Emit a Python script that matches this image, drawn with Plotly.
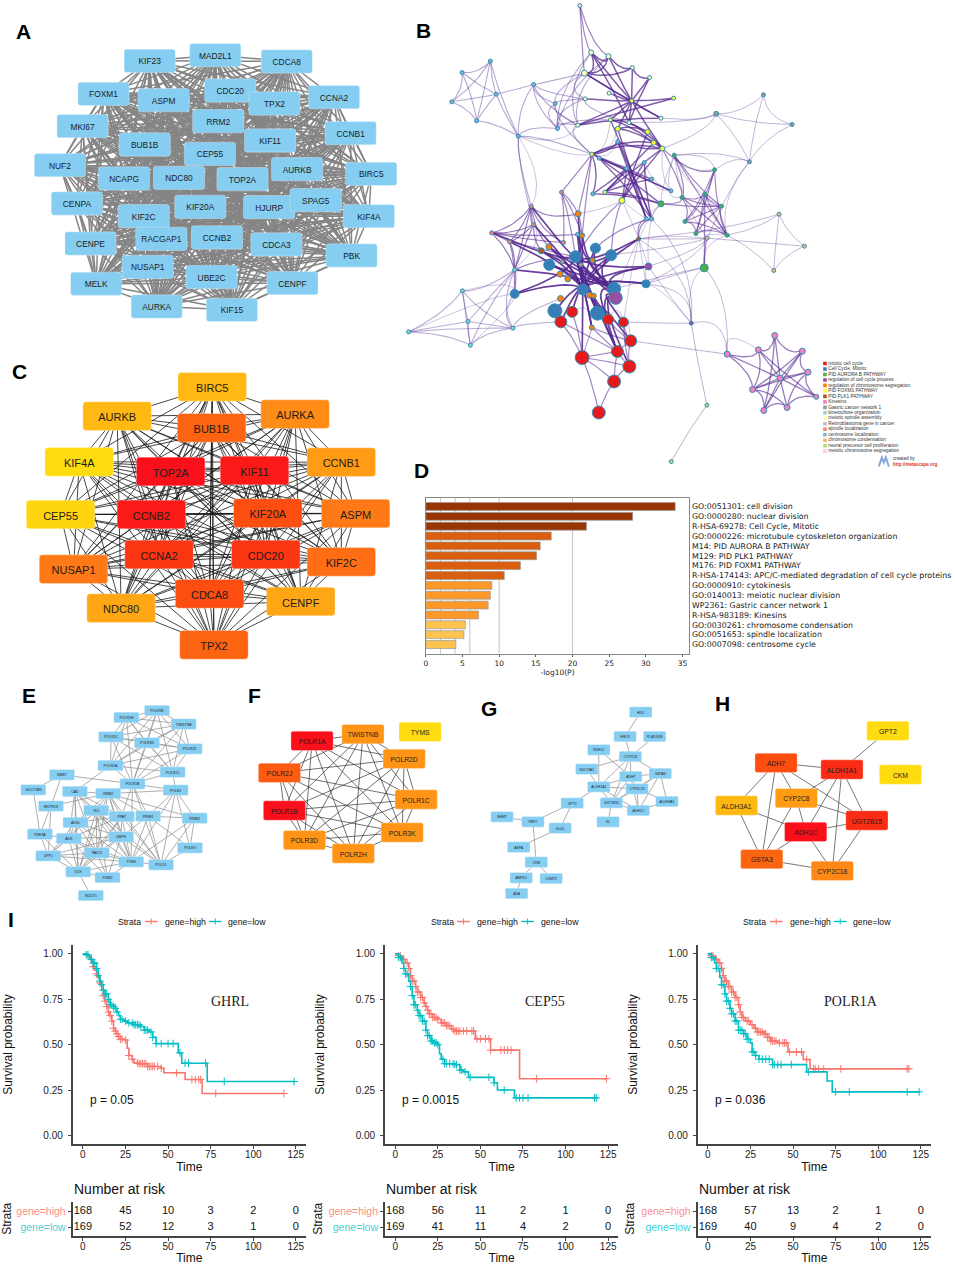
import itertools
import plotly.graph_objects as go

W, H = 955, 1265

# ---------- Panel A ----------
A_names = ["KIF23","MAD2L1","CDCA8","FOXM1","ASPM","CDC20","TPX2","CCNA2","MKI67","RRM2","CCNB1","BUB1B","KIF11","CEP55","NUF2","AURKB","BIRC5","NCAPG","NDC80","TOP2A","CENPA","KIF20A","HJURP","SPAG5","KIF2C","KIF4A","CENPE","RACGAP1","CCNB2","CDCA3","PBK","NUSAP1","UBE2C","MELK","CENPF","AURKA","KIF15"]
A_x = [448,645,860,309,490,690,823,1002,246,654,1052,433,810,629,178,891,1114,371,536,727,229,600,807,947,430,1107,270,483,650,829,1055,442,634,287,877,469,695]
A_y = [154,137,156,253,272,243,282,263,350,335,371,405,393,433,467,479,493,507,505,509,582,592,593,572,620,620,702,688,684,705,738,772,803,823,821,891,901]

# ---------- Panel C ----------
C_names = ["BIRC5","AURKB","BUB1B","AURKA","KIF4A","TOP2A","KIF11","CCNB1","CEP55","CCNB2","KIF20A","ASPM","NUSAP1","CCNA2","CDC20","KIF2C","CDCA8","CENPF","NDC80","TPX2"]
C_x = [636,350,634,885,236,511,763,1024,180,453,803,1067,219,476,797,1024,628,902,362,641]
C_y = [97,185,220,179,322,351,348,323,480,480,476,477,644,600,600,622,718,741,761,871]
C_col = ["#ffb912","#ffb912","#fd6412","#ff8c16","#ffdc10","#fb0f1a","#fb1a17","#ff9b14","#ffd510","#fb1a17","#fd4d11","#ff7a16","#ff7a16","#fc3512","#fc3512","#ff6d14","#fd4d11","#ffa614","#ffa614","#fd6412"]

# ---------- Panel E ----------
E_names = ["POLR3K","POLR2H","TWISTNB","POLR1C","POLR3D","POLR2D","POLR1A","POLR2J","NME7","POLR1B","GUCY1B3","POLE2","CAD","RRM2","ENTPD8","TK1","PPAT","PRIM1","PRIM2","ADSL","PDE3A","ADK","UMPS","POLE3","UPP1","PAICS","TYMS","POLD1","DCK","PGM2","NUDT5"]
E_x = [470,378,550,332,440,568,330,517,184,396,98,526,223,323,151,287,364,443,583,225,118,205,362,569,143,289,392,482,233,321,271]
E_y = [63,84,104,142,160,178,228,248,256,283,301,302,306,312,350,363,381,380,386,399,434,447,442,475,499,490,517,526,547,564,618]
E_polr = ["POLR3K","POLR2H","TWISTNB","POLR1C","POLR3D","POLR2D","POLR1A","POLR2J","POLR1B"]
E_links = {
 "POLR1A":["CAD"],
 "NME7":["POLR1B","ENTPD8","GUCY1B3"],
 "GUCY1B3":["PDE3A"],
 "ENTPD8":["PDE3A","UPP1","RRM2"],
 "PDE3A":["UPP1","DCK","ADK"],
 "POLR1B":["POLE2","PRIM1","PPAT","POLD1","TYMS","RRM2"],
 "POLE2":["RRM2","POLR2J","PRIM1","PRIM2","POLE3","POLD1","TYMS"],
 "PRIM1":["RRM2","PRIM2","POLE3","POLD1","TYMS","UMPS"],
 "PRIM2":["RRM2","POLE3","POLD1","TYMS"],
 "POLE3":["POLD1"],
 "POLD1":["RRM2","TK1","TYMS","UMPS","PPAT"],
 "CAD":["RRM2","TK1","ADSL","ADK","UMPS","PAICS","DCK","PPAT","TYMS"],
 "RRM2":["TK1","PPAT","UMPS","TYMS","ADSL","DCK","PAICS"],
 "TK1":["PPAT","ADSL","ADK","UMPS","PAICS","TYMS","DCK","UPP1","PGM2"],
 "PPAT":["ADSL","ADK","UMPS","PAICS","TYMS","DCK"],
 "ADSL":["ADK","UMPS","PAICS","TYMS","DCK","UPP1"],
 "ADK":["UMPS","PAICS","TYMS","DCK","UPP1","PGM2"],
 "UMPS":["PAICS","TYMS","DCK","UPP1","PGM2"],
 "PAICS":["TYMS","DCK","UPP1","PGM2"],
 "TYMS":["DCK","UPP1","PGM2"],
 "UPP1":["DCK"],
 "DCK":["PGM2","NUDT5"],
}

# ---------- Panel F ----------
F_names = ["TWISTNB","POLR1A","TYMS","POLR2D","POLR2J","POLR1C","POLR1B","POLR3K","POLR3D","POLR2H"]
F_x = [369,216,541,493,118,529,133,487,193,340]
F_y = [134,154,127,208,250,330,363,429,452,492]
F_col = ["#ff9416","#fb0f1a","#ffdc10","#ff9416","#fd5a12","#ff9416","#fb0f1a","#ff9416","#ff9416","#ff9416"]
F_linked = ["TWISTNB","POLR1A","POLR2D","POLR2J","POLR1C","POLR1B","POLR3K","POLR3D","POLR2H"]

# ---------- Panel G ----------
G_names = ["HDC","FMO5","PLA2G1B","RDH12","CYP2C8","SULT2A1","GSTA3","ADH7","ALDH1A1","CYP2C18","UGT2B15","ALDH3A1","GPT2","ADH1C","BHMT","FBP2","KL","GLUL","ASPA","CKM","AMPD1","CKMT2","ADA"]
G_x = [514,467,556,388,483,352,573,484,388,503,426,593,308,507,97,190,416,272,147,200,155,245,141]
G_y = [68,141,141,181,201,239,252,261,292,298,340,336,341,363,382,397,397,416,473,518,565,567,612]
G_edges = [("HDC","FMO5"),("FMO5","CYP2C8"),("PLA2G1B","CYP2C8"),("RDH12","ALDH1A1"),("RDH12","ADH7"),("CYP2C8","SULT2A1"),("CYP2C8","ALDH1A1"),("CYP2C8","ADH7"),("CYP2C8","GSTA3"),("CYP2C8","UGT2B15"),("SULT2A1","ALDH1A1"),("GSTA3","ADH7"),("GSTA3","ALDH3A1"),("GSTA3","ADH1C"),("GSTA3","CYP2C18"),("GSTA3","UGT2B15"),("ADH7","ALDH1A1"),("ADH7","UGT2B15"),("ADH7","CYP2C18"),("ADH7","ADH1C"),("ALDH1A1","CYP2C18"),("ALDH1A1","UGT2B15"),("ALDH1A1","ADH1C"),("CYP2C18","UGT2B15"),("CYP2C18","ADH1C"),("UGT2B15","ADH1C"),("ALDH3A1","ADH1C"),("ALDH3A1","CYP2C18"),("GPT2","ALDH1A1"),("GPT2","FBP2"),("GPT2","GLUL"),("BHMT","FBP2"),("FBP2","CKM"),("GLUL","ASPA"),("CKM","AMPD1"),("CKM","CKMT2"),("AMPD1","ADA"),("UGT2B15","KL")]

# ---------- Panel H ----------
H_names = ["GPT2","ADH7","ALDH1A1","CKM","CYP2C8","ALDH3A1","UGT2B15","ADH1C","GSTA3","CYP2C18"]
H_x = [552,216,414,590,277,97,489,305,173,385]
H_y = [124,220,240,255,326,348,393,427,509,544]
H_col = ["#ffdc10","#fd4d11","#fb2c15","#ffdc10","#ff9b14","#ffb912","#fb2c15","#fb0f1a","#fd6412","#ff8816"]
H_edges = [("GPT2","ALDH1A1"),("ADH7","ALDH1A1"),("ADH7","ALDH3A1"),("ADH7","CYP2C8"),("ADH7","GSTA3"),("ADH7","UGT2B15"),("ALDH1A1","CYP2C8"),("ALDH1A1","UGT2B15"),("ALDH1A1","ADH1C"),("ALDH1A1","CYP2C18"),("CYP2C8","UGT2B15"),("CYP2C8","ADH1C"),("CYP2C8","GSTA3"),("ALDH3A1","ADH1C"),("ALDH3A1","GSTA3"),("UGT2B15","ADH1C"),("UGT2B15","CYP2C18"),("ADH1C","GSTA3"),("ADH1C","CYP2C18"),("GSTA3","CYP2C18")]

# ---------- Panel B (enrichment network) ----------
B_legend = ["mitotic cell cycle","Cell Cycle, Mitotic","PID AURORA B PATHWAY","regulation of cell cycle process","regulation of chromosome segregation","PID FOXM1 PATHWAY","PID PLK1 PATHWAY","Kinesins","Gastric cancer network 1","kinetochore organization","meiotic spindle assembly","Retinoblastoma gene in cancer","spindle localization","centrosome localization","chromosome condensation","neural precursor cell proliferation","meiotic chromosome segregation"]
B_legend_col = ["#e41a1c","#377eb8","#4daf4a","#984ea3","#ff7f00","#ffff33","#a65628","#f781bf","#999999","#8dd3c7","#ffffb3","#bebada","#fb8072","#80b1d3","#fdb462","#b3de69","#fccde5"]
B_x = [541,575,627,555,699,751,557,629,697,823,785,633,689,535,655,745,763,789,655,577,599,825,735,682,757,815,580,616,668,785,486,536,741,757,187,272,156,290,231,402,356,467,474,951,1093,1179,1051,946,917,848,967,857,890,984,924,915,1140,1216,1124,395,402,276,330,345,345,425,448,534,548,492,718,588,528,635,449,579,488,544,747,482,505,550,644,740,571,583,483,649,466,594,518,484,626,672,577,876,694,654,548,690,644,598,188,205,26,212,340,1127,1078,984,1210,1227,1143,1060,1252,1094,1164,923,816]
B_y = [18,159,170,221,204,234,298,281,304,296,356,361,369,377,388,397,430,447,426,464,476,467,489,507,539,574,583,578,603,613,578,643,658,658,219,185,307,284,364,255,410,312,387,343,286,375,487,511,584,594,620,666,702,707,716,805,644,740,813,620,675,700,727,811,883,754,742,705,708,729,718,746,772,767,796,782,787,796,801,824,838,870,868,853,887,889,897,895,934,941,937,967,960,968,984,971,1024,1056,1074,1101,1146,1239,874,966,997,1037,986,1008,1051,1064,1055,1118,1136,1170,1192,1233,1224,1217,1386]
B_cat = [16,10,10,10,10,10,10,10,5,5,10,5,10,10,5,5,5,5,13,5,13,2,13,13,13,13,13,5,5,2,12,4,13,13,13,13,13,13,13,13,13,13,13,8,8,8,8,2,2,2,2,2,2,2,14,2,14,14,14,12,12,12,12,9,1,6,4,13,4,12,6,1,1,1,1,4,12,12,3,4,4,1,1,1,4,4,4,3,1,1,0,0,0,0,4,3,0,0,0,0,0,0,9,9,9,9,9,7,7,7,7,7,7,7,7,7,7,15,15]
B_diam = [4,5,5,6,4,4,4,4,4,4,4,4,4,4,5,5,5,5,4,4,4,4,4,4,4,4,4,4,6,6,4,6,4,4,4,4,4,4,4,4,4,4,4,5,4,4,4,4,4,4,4,4,4,4,4,8,4,4,4,4,4,4,4,4,9,6,6,4,5,4,4,10,12,11,11,5,4,4,7,6,6,11,13,8,6,5,6,13,14,14,11,12,11,10,5,4,12,12,14,13,13,13,4,4,4,4,4,6,6,6,6,6,6,6,5,6,6,4,4]

B_heavy_core = [(64,81),(64,72),(74,82),(72,82),(81,83),(82,83),(71,81),(73,81),(72,73),(78,81),(78,72),(70,81),(70,72),(61,72),(62,81),(65,82),(66,81),(60,81),(59,72),(63,82),(67,81),(68,81),(31,81),(72,89),(81,88),(81,89),(81,90),(81,91),(72,94),(81,94),(81,92),(87,72),(87,93),(82,92),(87,97),(84,97),(98,81),(97,72),(99,87),(96,89),(74,81),(72,81),(66,82),(65,81),(67,82),(68,82),(71,82),(73,82),(78,82)]
B_red = [(98,101),(100,101),(98,100),(97,99),(97,100),(99,100),(96,97),(96,99),(98,97),(98,99),(94,97),(94,96),(91,97),(90,98),(91,98),(92,96),(93,96),(93,99),(92,97)]
B_yellow = [(1,8),(2,8),(1,12),(2,4),(4,8),(5,8),(5,12),(3,8),(3,4),(3,10),(6,8),(7,8),(8,9),(8,10),(8,11),(8,12),(9,13),(13,8),(10,13),(11,15),(11,16),(14,17),(14,15),(15,17),(16,19),(17,19),(12,17),(14,8),(8,17),(1,3),(1,2),(2,3),(4,5)]
B_middle = [(19,26),(19,25),(20,29),(23,26),(23,28),(23,27),(23,32),(22,33),(18,32),(18,33),(16,27),(17,27),(28,17),(28,15),(14,32),(11,33),(23,24),(24,27),(25,20),(27,29),(26,29),(19,23),(20,33),(18,19),(18,17),(22,28)]
B_links = [(19,31),(19,68),(31,68),(30,68),(30,19),(30,31),(30,69),(30,72),(28,72),(28,73),(33,70),(33,71),(32,70),(0,1),(0,2),(0,3)]
B_lefttop = [(34,35),(34,36),(34,37),(34,38),(35,36),(35,37),(35,38),(36,37),(36,38),(37,38),(37,39),(37,40),(38,40),(35,40),(39,40),(39,41),(39,42),(39,13),(39,6),(41,42),(41,13),(41,6),(42,13),(42,6),(40,19),(40,42),(41,19),(40,60),(40,59),(42,1),(42,2),(41,3),(42,11),(13,19),(13,1),(13,2),(6,12),(6,3),(3,39)]
B_right = [(43,44),(43,45),(43,46),(44,45),(44,46),(45,46),(10,43),(12,43),(21,46),(21,47),(47,46),(54,46),(43,17)]
B_green = [(47,48),(47,51),(47,52),(47,53),(48,49),(48,50),(48,51),(48,52),(48,53),(49,50),(49,51),(49,53),(50,51),(50,52),(50,53),(51,53),(51,52),(52,53),(54,55),(48,55),(29,49),(29,50),(21,49),(21,53),(17,47),(17,49),(21,50)]
B_orange_r = [(56,57),(56,58),(57,58),(53,56),(53,58),(54,57),(70,56),(54,70),(78,54),(83,54),(55,83),(55,82),(55,109),(83,95),(70,95),(95,109),(33,95),(54,73)]
B_centreleft = [(59,60),(59,61),(59,62),(60,61),(60,62),(61,62),(61,63),(62,63),(60,63),(59,63),(63,64),(64,62),(63,72),(65,60),(66,59),(61,67),(61,69),(59,31),(59,69),(62,72)]
B_botleft = [(102,103),(102,104),(102,105),(102,106),(103,104),(103,105),(103,106),(104,105),(105,106),(104,106),(102,63),(103,63),(106,63),(106,64),(63,105),(106,86),(106,91)]
B_pink = [(107,112),(107,108),(107,115),(108,112),(108,109),(108,114),(109,112),(109,113),(110,112),(110,115),(110,113),(111,112),(111,113),(111,116),(113,112),(113,115),(113,116),(114,112),(115,116),(115,112),(116,112),(110,111),(111,114),(114,116),(108,113),(107,110)]
B_long = [(96,109),(93,95),(78,95),(117,118),(117,95)]
B_faint = [(13,40),(19,40),(19,11),(19,14),(19,18),(20,22),(22,24),(24,25),(22,25),(17,25),(21,25),(21,29),(21,54),(29,32),(29,33),(28,32),(28,31),(70,28),(70,29),(70,54),(78,70),(83,70),(83,78),(78,33),(87,70),(95,83),(95,55),(93,70),(64,105),(63,60),(40,59),(102,64),(104,64),(92,93),(96,93),(98,94),(94,90),(94,98),(109,108),(47,21),(49,25),(50,21),(53,46),(54,53),(55,53)]
B_groups = [  # edges, bundling point, strength, width, colour
 (B_faint, (700,650), 0.2, 0.9, "rgba(94,60,153,0.35)"),
 (B_long, (760,1050), 0.03, 1.0, "rgba(94,60,153,0.4)"),
 (B_right, (1040,400), 0.35, 1.0, "rgba(94,60,153,0.38)"),
 (B_orange_r, (1120,730), 0.25, 1.0, "rgba(94,60,153,0.38)"),
 (B_botleft, (195,965), 0.3, 1.1, "rgba(94,60,153,0.42)"),
 (B_lefttop, (260,300), 0.22, 1.1, "rgba(94,60,153,0.45)"),
 (B_centreleft, (370,740), 0.3, 1.2, "rgba(84,39,143,0.6)"),
 (B_links, (550,520), 0.12, 1.2, "rgba(84,39,143,0.55)"),
 (B_green, (917,640), 0.35, 1.2, "rgba(84,39,143,0.55)"),
 (B_red, (620,1050), 0.12, 1.2, "rgba(84,39,143,0.55)"),
 (B_pink, (1140,1135), 0.35, 1.3, "rgba(84,39,143,0.6)"),
 (B_middle, (690,520), 0.2, 1.4, "rgba(84,39,143,0.72)"),
 (B_yellow, (690,320), 0.25, 1.5, "rgba(84,39,143,0.75)"),
 (B_heavy_core, (548,820), 0.7, 1.7, "rgba(84,39,143,0.88)"),
]

# ---------- Panel D ----------
D_labels = ["GO:0051301: cell division","GO:0000280: nuclear division","R-HSA-69278: Cell Cycle, Mitotic","GO:0000226: microtubule cytoskeleton organization","M14: PID AURORA B PATHWAY","M129: PID PLK1 PATHWAY","M176: PID FOXM1 PATHWAY","R-HSA-174143: APC/C-mediated degradation of cell cycle proteins","GO:0000910: cytokinesis","GO:0140013: meiotic nuclear division","WP2361: Gastric cancer network 1","R-HSA-983189: Kinesins","GO:0030261: chromosome condensation","GO:0051653: spindle localization","GO:0007098: centrosome cycle"]
D_vals = [34,28.2,21.9,17.1,15.6,15.1,12.9,10.7,9,8.8,8.5,7.2,5.4,5.2,4.1]
D_cols = ["#993404"]*3+["#d95f0e"]*5+["#fe9929"]*4+["#fec44f"]*3
D_grid = [2,4,6,10,20]
D_xticks = [0,5,10,15,20,25,30,35]

# ---------- Panel I (Kaplan-Meier) ----------
KM_titles = ["GHRL","CEP55","POLR1A"]
KM_p = ["p = 0.05","p = 0.0015","p = 0.036"]
KM_high_t = [
 [0,3,5,6,7,8,9,10,11,12,13,14,15,16,17,18,19,20,21,22,25,26,27,29,30,33,38,46,47.5,60,70,118],
 [0,2,4,6,8,9,10,12,13,15,17,18,19,20,22,25,27,30,33,35,47,56,73,124],
 [0,2,4,6,8,9,10,12,14,16,18,19,20,22,25,27,29,33,35,37,41,47,56,60,118]]
KM_high_s = [
 [1,.985,.96,.93,.91,.89,.87,.84,.80,.77,.74,.71,.68,.66,.63,.59,.575,.56,.545,.53,.525,.48,.44,.42,.40,.395,.38,.37,.345,.308,.231,.231],
 [1,.99,.97,.95,.92,.88,.85,.82,.79,.76,.73,.71,.69,.67,.65,.64,.62,.605,.585,.575,.532,.47,.312,.312],
 [1,.99,.97,.95,.92,.88,.85,.82,.79,.76,.72,.68,.65,.63,.61,.59,.57,.56,.54,.52,.51,.46,.418,.367,.367]]
KM_low_t = [
 [0,2,4,6,8,9,10,11,12,13,15,16,18,19,20,21,22,24,26,30,34,36,39,41,43,56,58,73,124.5],
 [0,2,4,5,6,8,9,10,11,13,14,16,18,19,21,23,25,26,27,29,35,38,40,43,58,60,70,118],
 [0,2,4,5,7,8,10,11,13,14,16,18,21,23,25,26,28,30,38,58,70,73,124]]
KM_low_s = [
 [1,.995,.97,.95,.92,.88,.85,.83,.80,.78,.75,.72,.71,.70,.68,.66,.64,.63,.62,.61,.60,.58,.57,.54,.506,.455,.398,.297,.297],
 [1,.98,.95,.92,.89,.85,.82,.77,.72,.69,.66,.63,.58,.55,.52,.51,.50,.45,.42,.395,.39,.36,.35,.32,.29,.25,.207,.207],
 [1,.98,.95,.92,.87,.83,.78,.74,.70,.67,.63,.58,.56,.53,.51,.46,.44,.42,.39,.35,.30,.24,.24]]
KM_high_c = [
 [6,8,10,12,13,14,15,16,17,18,19,20,21,22,23,25,27,29,32,33,34,35,36,37,38,39,40,41,42,44,46,55,64,66,68,69,78,118],
 [2,3,5,7,8,9,10,11,12,13,14,15,16,17,18,19,20,21,22,23,24,25,27,28,29,30,31,32,34,35,36,37,38,40,42,45,46,48,50,53,55,56,62,64,66,68,83,124],
 [2,3,5,7,8,9,10,11,12,13,14,15,16,17,18,19,20,21,23,24,26,28,29,30,31,32,33,34,35,36,37,38,39,40,42,44,45,46,48,52,55,58,62,63,65,68,78,117,118]]
KM_low_c = [
 [2,3,5,6,7,8,9,10,11,12,13,14,15,16,17,18,19,20,22,23,25,27,29,30,31,32,33,34,36,37,38,40,41,43,46,50,53,57,60,62,72,83,124],
 [2,3,5,6,7,9,10,11,12,13,14,15,16,17,18,19,20,21,22,23,24,25,28,29,30,32,34,35,36,38,39,41,44,55,58,64,71,73,75,78,117,118],
 [2,3,5,6,8,9,10,11,12,13,14,15,16,17,18,19,20,21,22,23,24,26,27,28,30,32,34,36,38,39,41,43,49,59,75,83,117,124]]
KM_xticks = [0,25,50,75,100,125]
KM_yticks = [0,.25,.5,.75,1]
Risk_high = [[168,45,10,3,2,0],[168,56,11,2,1,0],[168,57,13,2,1,0]]
Risk_low = [[169,52,12,3,1,0],[169,41,11,4,2,0],[169,40,9,4,2,0]]
Strata = ["gene=high","gene=low"]

# ---------- styles ----------
SANS = "Liberation Sans"
SERIF = "Liberation Serif"
SKY = "#86cdf2"
RED = "#F8766D"
TEAL = "#00BFC4"
RED_L = "#ff8f88"
TEAL_L = "#45d2d6"
AXC = "#444444"
KM_SHIFT = [0, 313, 626.3]
NUDGE_X, NUDGE_Y = -1.3, -0.5

fig = go.Figure()
layout = dict(width=W, height=H, margin=dict(l=0, r=0, t=0, b=0), paper_bgcolor="white",
              plot_bgcolor="rgba(0,0,0,0)", showlegend=False, font=dict(family=SANS, color="#222"))
shapes, annotations = [], []
axis_count = [0]


def px_x(x):
    return (x + NUDGE_X) / W


def px_y(y):
    return 1 - (y + NUDGE_Y) / H


def new_axes(left, right, top, bottom, xr, yr, xopts=None, yopts=None):
    axis_count[0] += 1
    n = axis_count[0]
    s = "" if n == 1 else str(n)
    blank = dict(visible=False, fixedrange=True)
    xo = dict(xopts) if xopts else dict(blank)
    yo = dict(yopts) if yopts else dict(blank)
    layout["xaxis" + s] = dict(domain=[max(px_x(left), 0), px_x(right)], range=xr, anchor="y" + s, **xo)
    layout["yaxis" + s] = dict(domain=[px_y(bottom), min(px_y(top), 1)], range=yr, anchor="x" + s, **yo)
    return "x" + s, "y" + s


def graph_axes(off_x, off_y, w, h):
    # graph layout coordinates for a panel run at 3 units per page pixel; clamp-free offsets keep the scale at 3
    return new_axes(off_x + 2, off_x + w / 3, off_y + 1, off_y + h / 3, [6, w], [h, 3])


def draw_graph(xa, ya, names, xs, ys, edges, cols, bw, bh, fs, ecol, ew, r=6):
    idx = {n: i for i, n in enumerate(names)}
    ex, ey = [], []
    for a, b in edges:
        ex += [xs[idx[a]], xs[idx[b]], None]
        ey += [ys[idx[a]], ys[idx[b]], None]
    fig.add_trace(go.Scatter(x=ex, y=ey, xaxis=xa, yaxis=ya, mode="lines", hoverinfo="skip",
                             line=dict(color=ecol, width=ew)))
    for n, x, y, c in zip(names, xs, ys, cols):
        x0, x1, y0, y1 = x - bw / 2, x + bw / 2, y - bh / 2, y + bh / 2
        path = (f"M {x0+r} {y0} L {x1-r} {y0} Q {x1} {y0} {x1} {y0+r} L {x1} {y1-r} Q {x1} {y1} {x1-r} {y1} "
                f"L {x0+r} {y1} Q {x0} {y1} {x0} {y1-r} L {x0} {y0+r} Q {x0} {y0} {x0+r} {y0} Z")
        shapes.append(dict(type="path", path=path, xref=xa, yref=ya, fillcolor=c, layer="above",
                           line=dict(color="rgba(255,255,255,0.6)", width=0.5),
                           label=dict(text=n, font=dict(size=fs, color="#1c1c1c", family=SANS),
                                      textposition="middle center")))


def note(text, x, y, size, color="#111", family=SANS, xanchor="center", angle=0, bold=False):
    annotations.append(dict(text=f"<b>{text}</b>" if bold else text, x=px_x(x), y=px_y(y), xref="paper", yref="paper",
                            showarrow=False, xanchor=xanchor, yanchor="middle", textangle=angle,
                            font=dict(size=size, color=color, family=family)))


# --- A
xa, ya = graph_axes(0, 10, 1230, 990)
draw_graph(xa, ya, A_names, A_x, A_y, list(itertools.combinations(A_names, 2)),
           [SKY] * len(A_names), 154, 70, 8.4, "#858585", 1.45, 8)

# --- B
xa, ya = graph_axes(400, 0, 1260, 1410)
for edges, (bx, by), k, w_, col in B_groups:
    ex, ey = [], []
    for a, b in edges:
        mx, my = (B_x[a] + B_x[b]) / 2, (B_y[a] + B_y[b]) / 2
        cx, cy = mx + k * (bx - mx), my + k * (by - my)
        for i in range(15):
            t = i / 14
            ex.append((1 - t) ** 2 * B_x[a] + 2 * t * (1 - t) * cx + t ** 2 * B_x[b])
            ey.append((1 - t) ** 2 * B_y[a] + 2 * t * (1 - t) * cy + t ** 2 * B_y[b])
        ex.append(None)
        ey.append(None)
    fig.add_trace(go.Scatter(x=ex, y=ey, xaxis=xa, yaxis=ya, mode="lines", hoverinfo="skip",
                             line=dict(color=col, width=w_, shape="linear")))
fig.add_trace(go.Scatter(x=B_x, y=B_y, xaxis=xa, yaxis=ya, mode="markers", hoverinfo="skip", cliponaxis=False,
                         marker=dict(size=B_diam, color=[B_legend_col[c] for c in B_cat],
                                     line=dict(color="#2f8fb5", width=1), opacity=1)))

# B legend
xa, ya = new_axes(822, 955, 361.26, 454.4, [0, 133], [16.5, -0.5])
fig.add_trace(go.Scatter(x=[4] * len(B_legend), y=list(range(len(B_legend))), xaxis=xa, yaxis=ya,
                         mode="markers+text", text=B_legend, textposition="middle right", hoverinfo="skip",
                         textfont=dict(size=4.8, color="#333", family=SANS),
                         marker=dict(size=3.6, symbol="square", color=B_legend_col)))
note("created by", 892, 459, 4.7, "#333", xanchor="left")
note("<b>http://metascape.org</b>", 892, 465, 4.5, "#d9342b", xanchor="left")
shapes.append(dict(type="path", xref="paper", yref="paper",
                   path=" ".join(f"{c} {px_x(x)} {px_y(y)}" for c, x, y in
                                 [("M", 880, 467), ("L", 883, 458), ("L", 885, 463), ("L", 887, 458), ("L", 890, 467)]),
                   line=dict(color="#86a9dc", width=2)))

# --- C
xa, ya = graph_axes(0, 355, 1230, 960)
draw_graph(xa, ya, C_names, C_x, C_y, list(itertools.combinations(C_names, 2)), C_col, 206, 86, 11, "#1a1a1a", 0.8, 10)

# --- D
xa, ya = new_axes(426, 690, 498, 654, [0, 35.92], [14.91, -0.91],
                  dict(showline=True, mirror=True, linecolor="#888888", linewidth=1.3, tickvals=D_xticks, ticks="outside",
                       ticklen=2, tickcolor="#555", tickfont=dict(size=7.5, family="DejaVu Sans", color="#222"), zeroline=False,
                       showgrid=False, fixedrange=True, title=dict(text="-log10(P)", standoff=3, font=dict(size=7.5, family="DejaVu Sans", color="#222"))),
                  dict(showline=True, mirror=True, linecolor="#888888", linewidth=1.3, side="right", ticks="", zeroline=False,
                       showgrid=False, fixedrange=True, tickvals=list(range(len(D_labels))), ticktext=D_labels, ticklen=0,
                       tickfont=dict(size=7.85, family="DejaVu Sans", color="#222")))
for g in D_grid:
    shapes.append(dict(type="line", xref=xa, yref=ya + " domain", x0=g, x1=g, y0=0, y1=1, layer="below",
                       line=dict(color="#c9c9c9", width=1.1)))
fig.add_trace(go.Bar(x=D_vals, y=list(range(len(D_vals))), orientation="h", xaxis=xa, yaxis=ya, width=0.8, hoverinfo="skip",
                     marker=dict(color=D_cols, line=dict(color="#999999", width=0.7))))

# --- E, F, G, H
xa, ya = graph_axes(0, 690, 720, 660)
draw_graph(xa, ya, E_names, E_x, E_y,
           list(itertools.combinations(E_polr, 2)) + [(a, b) for a, v in E_links.items() for b in v],
           [SKY] * len(E_names), 76, 32, 3.5, "#8c8c8c", 0.7, 4)
xa, ya = graph_axes(240, 690, 660, 570)
draw_graph(xa, ya, F_names, F_x, F_y, list(itertools.combinations(F_linked, 2)), F_col, 127, 58, 6.8, "#333333", 0.7, 6)
xa, ya = graph_axes(470, 690, 720, 660)
draw_graph(xa, ya, G_names, G_x, G_y, G_edges, [SKY] * len(G_names), 68, 32, 3.4, "#999999", 0.8, 4)
xa, ya = graph_axes(705, 690, 690, 600)
draw_graph(xa, ya, H_names, H_x, H_y, H_edges, H_col, 127, 58, 6.8, "#555555", 0.8, 6)

# --- I
km_axis = dict(showline=True, linecolor=AXC, linewidth=1.5, ticks="outside", ticklen=3, tickcolor=AXC, tickwidth=1,
               showgrid=False, zeroline=False, fixedrange=True, tickfont=dict(size=10, color="#222", family=SANS))
ttl = dict(font=dict(size=12, color="#111", family=SANS))
for p in range(3):
    sh = KM_SHIFT[p]
    L, R_ = 72 + sh, 306 + sh
    xa, ya = new_axes(L, R_, 945.7, 1144.3, [-6.05, 131], [-0.046, 1.048],
                      dict(km_axis, tickvals=KM_xticks, ticklabelstandoff=-3, title=dict(text="Time", standoff=4, **ttl)),
                      dict(km_axis, tickvals=KM_yticks, tickformat=".2f", ticklabelstandoff=3,
                           title=dict(text="Survival probability", standoff=28, **ttl)))
    for ts, ss, cs, col in [(KM_high_t[p], KM_high_s[p], KM_high_c[p], RED),
                            (KM_low_t[p], KM_low_s[p], KM_low_c[p], TEAL)]:
        fig.add_trace(go.Scatter(x=ts, y=ss, xaxis=xa, yaxis=ya, mode="lines", hoverinfo="skip",
                                 line=dict(color=col, width=1.6, shape="hv")))
        cy = [[s for t, s in zip(ts, ss) if t <= c][-1] for c in cs]
        fig.add_trace(go.Scatter(x=cs, y=cy, xaxis=xa, yaxis=ya, mode="markers", hoverinfo="skip",
                                 marker=dict(symbol="cross-thin", size=5.5, line=dict(color=col, width=1))))
    note(KM_p[p], 87 + sh, 1100.7, 12, xanchor="left")
    note(KM_titles[p], [229.3, 545.7, 852.3][p], 1002.3, 14, "#222", SERIF)
    # legend row
    note("Strata", 116 + sh, 922, 8.6, xanchor="left")
    note(Strata[0], 162.5 + sh, 922, 8.7, xanchor="left")
    note(Strata[1], 226 + sh, 922, 8.7, xanchor="left")
    for kx0, kx1, col in [(144.3, 157.3, RED), (208.7, 221.3, TEAL)]:
        km = (kx0 + kx1) / 2
        for a in [(kx0, 922, kx1, 922), (km, 919, km, 925)]:
            shapes.append(dict(type="line", xref="paper", yref="paper", x0=px_x(a[0] + sh), x1=px_x(a[2] + sh),
                               y0=px_y(a[1]), y1=px_y(a[3]), line=dict(color=col, width=1.4 if a[1] == a[3] else 1)))
    # risk table
    note("Number at risk", 71.5 + sh, 1189, 14, xanchor="left")
    xa, ya = new_axes(L, R_, 1202.3, 1236.3, [-6.05, 131], [0.458, 2.583],
                      dict(km_axis, tickvals=KM_xticks, ticklabelstandoff=-3, title=dict(text="Time", standoff=4, **ttl)),
                      dict(km_axis, tickvals=[2, 1], tickfont=dict(size=10.5, family=SANS),
                           ticktext=[f'<span style="color:{RED_L}">{Strata[0]}</span>',
                                     f'<span style="color:{TEAL_L}">{Strata[1]}</span>'],
                           title=dict(text="Strata", standoff=4, **ttl)))
    for yy, vals in [(2, Risk_high[p]), (1, Risk_low[p])]:
        fig.add_trace(go.Scatter(x=KM_xticks, y=[yy] * 6, xaxis=xa, yaxis=ya, mode="text", hoverinfo="skip",
                                 text=[str(v) for v in vals], textposition="middle center", cliponaxis=False,
                                 textfont=dict(size=11, color="#111", family=SANS)))

# panel letters
for t, x, y in [("A", 23, 32), ("B", 424, 31), ("C", 19, 372), ("D", 422, 471), ("E", 28, 696), ("F", 254, 696),
                ("G", 489, 709), ("H", 723, 704), ("I", 10, 920)]:
    note(t, x, y, 21, "#000", bold=True)

layout["shapes"] = shapes
layout["annotations"] = annotations
fig.update_layout(**layout)
fig.write_html("out.html", config=dict(displayModeBar=False, responsive=False),
               post_script="document.body.style.margin='0';document.documentElement.style.overflow='hidden';")
